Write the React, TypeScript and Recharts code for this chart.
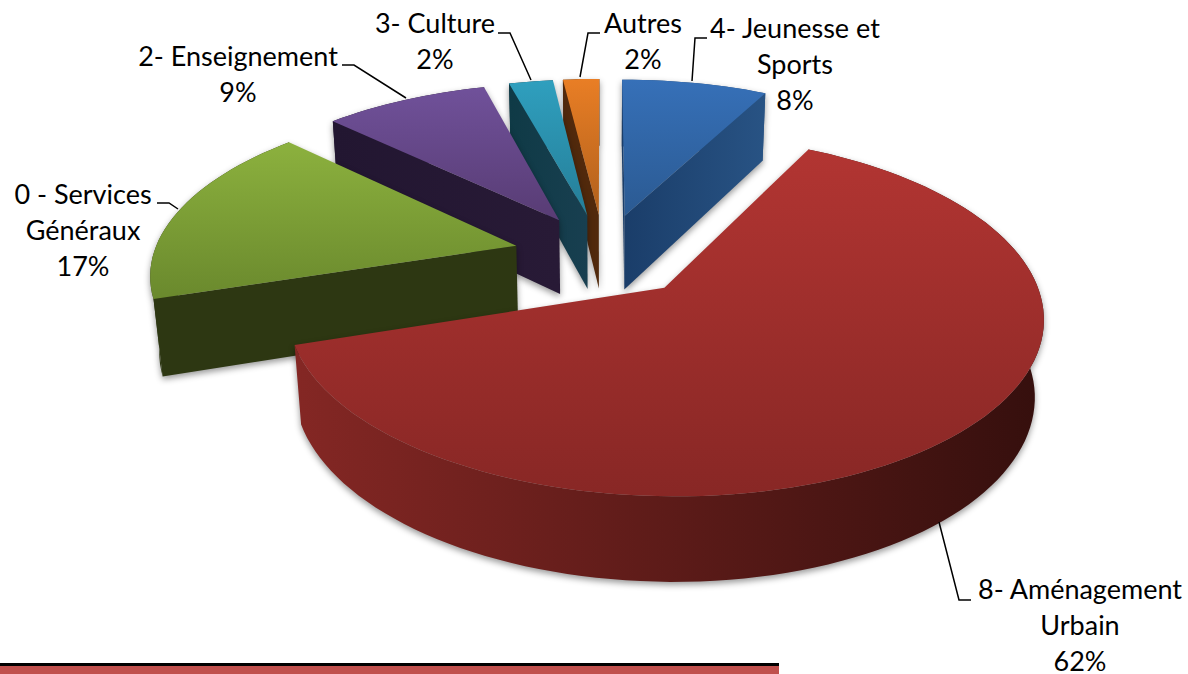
import { PieChart, Pie } from 'recharts';

// drawn back to front, going anticlockwise from the right edge of the blue slice
const categories = [
  '4- Jeunesse et Sports',
  'Autres',
  '3- Culture',
  '2- Enseignement',
  '0 - Services Généraux',
  '8- Aménagement Urbain',
];
const values = [7.6, 1.9, 2.3, 8.6, 17.2, 62.4];

const total = values.reduce((a, b) => a + b, 0);
const data = categories.map((name, i) => ({ name, value: values[i] }));
const startAngle = 90 - (360 * values[0]) / total;

// disc projection
const TILT = 0.46;
const PERSPECTIVE = 0.148;
const EXPLODE = 0.25;
const DEPTH = 77;
const DEPTH_SHRINK = 0.02;

const palette = [
  { topA: '#3670b8', topB: '#2b5a92', cutA: '#1a3d69', cutB: '#285384', wallA: '#1a3d69', wallB: '#285384' },
  { topA: '#e97e25', topB: '#b0601c', cutA: '#51290c', cutB: '#51290c', wallA: '#51290c', wallB: '#51290c' },
  { topA: '#2f9fbe', topB: '#257e98', cutA: '#0f3a46', cutB: '#183f50', wallA: '#0f3a46', wallB: '#183f50' },
  { topA: '#70519a', topB: '#583c74', cutA: '#221631', cutB: '#281a36', wallA: '#221631', wallB: '#281a36' },
  { topA: '#8cb13e', topB: '#6a892d', cutA: '#2d3712', cutB: '#2d3712', wallA: '#2d3712', wallB: '#2d3712' },
  { topA: '#b23532', topB: '#882725', cutA: '#7f2522', cutB: '#36100e', wallA: '#842724', wallB: '#350f0d' },
];

const labelLayout = [
  { cx: 795, y: 38, lines: ['4- Jeunesse et', 'Sports'], leader: '692,81 695,38 707,38' },
  { cx: 643, y: 33, lines: ['Autres'], leader: '580,77 588,33 600,33' },
  { cx: 435, y: 33, lines: ['3- Culture'], leader: '531,80 510,33 498,33' },
  { cx: 238, y: 66, lines: ['2- Enseignement'], leader: '406,98 354,65 342,65' },
  { cx: 83, y: 204, lines: ['0 - Services', 'Généraux'], leader: '178,209 169,203 157,203' },
  { cx: 1080, y: 599, lines: ['8- Aménagement', 'Urbain'], leader: '939,522 959,600 971,600' },
];

type Pt = [number, number];
const toPath = (pts: Pt[]) => 'M' + pts.map((p) => `${p[0].toFixed(1)},${p[1].toFixed(1)}`).join('L') + 'Z';

function Slice3D(props: any) {
  const { cx, cy, outerRadius, startAngle: a0, endAngle: a1, index } = props;
  const rad = (d: number) => (d * Math.PI) / 180;
  const mid = rad((a0 + a1) / 2);
  const ox = EXPLODE * Math.cos(mid);
  const oy = EXPLODE * Math.sin(mid);
  const project = (u: number, v: number, bottom: boolean): Pt => {
    const w = 1 + PERSPECTIVE * (v + oy) + (bottom ? DEPTH_SHRINK : 0);
    return [
      cx + (outerRadius * (u + ox)) / w,
      cy - (outerRadius * TILT * (v + oy)) / w + (bottom ? DEPTH / w : 0),
    ];
  };

  const steps = Math.max(4, Math.ceil(Math.abs(a1 - a0) / 2));
  const angles: number[] = [];
  for (let i = 0; i <= steps; i++) angles.push(rad(a0 + ((a1 - a0) * i) / steps));
  const arcTop = angles.map((a) => project(Math.cos(a), Math.sin(a), false));
  const arcBottom = angles.map((a) => project(Math.cos(a), Math.sin(a), true));
  const apexTop = project(0, 0, false);
  const apexBottom = project(0, 0, true);

  const inner = arcTop[Math.floor(steps / 2)];
  // a cut face only shows when the wedge lies above its top edge
  const cutShows = (q: Pt) => {
    const dx = q[0] - apexTop[0];
    const dy = q[1] - apexTop[1];
    const sideInner = dx * (inner[1] - apexTop[1]) - dy * (inner[0] - apexTop[0]);
    const sideDown = dx;
    return Math.abs(dx) > 2 && sideInner * sideDown < 0;
  };

  const c = palette[index];
  const ys = [...arcTop.map((p) => p[1]), apexTop[1]];
  const xs = [...arcTop.map((p) => p[0]), apexTop[0]];
  const id = `s${index}`;
  const xRange = { x1: Math.min(...xs), x2: Math.max(...xs), y1: 0, y2: 0 };

  const cuts = [arcTop[0], arcTop[steps]].map((q, i) => {
    if (!cutShows(q)) return null;
    const b = i === 0 ? arcBottom[0] : arcBottom[steps];
    return <path key={i} d={toPath([apexTop, q, b, apexBottom])} fill={`url(#${id}cut)`} />;
  });

  return (
    <g style={{ filter: 'drop-shadow(0px 3px 3px rgba(0,0,0,0.4))' }}>
      <defs>
        <linearGradient id={`${id}top`} gradientUnits="userSpaceOnUse" x1={0} x2={0} y1={Math.min(...ys)} y2={Math.max(...ys)}>
          <stop offset="0%" stopColor={c.topA} />
          <stop offset="100%" stopColor={c.topB} />
        </linearGradient>
        <linearGradient id={`${id}wall`} gradientUnits="userSpaceOnUse" {...xRange}>
          <stop offset="0%" stopColor={c.wallA} />
          <stop offset="100%" stopColor={c.wallB} />
        </linearGradient>
        <linearGradient id={`${id}cut`} gradientUnits="userSpaceOnUse" {...xRange}>
          <stop offset="0%" stopColor={c.cutA} />
          <stop offset="100%" stopColor={c.cutB} />
        </linearGradient>
      </defs>
      <path d={toPath([...arcTop, ...[...arcBottom].reverse()])} fill={`url(#${id}wall)`} />
      {cuts}
      <path d={toPath([apexTop, ...arcTop])} fill={`url(#${id}top)`} />
    </g>
  );
}

function SliceLabel(props: any) {
  const { index, percent } = props;
  const l = labelLayout[index];
  const rows = [...l.lines, `${Math.round(percent * 100)}%`];
  return (
    <g>
      <polyline points={l.leader} fill="none" stroke="#000" strokeWidth={1.5} />
      {rows.map((t, i) => (
        <text key={i} x={l.cx} y={l.y + i * 36} textAnchor="middle" fontFamily="Lato" fontSize={27} fill="#000">
          {t}
        </text>
      ))}
    </g>
  );
}

export default function App() {
  return (
    <div style={{ position: 'absolute', left: 0, top: 0, width: 1188, height: 674, overflow: 'hidden', background: '#fff' }}>
      <PieChart width={1188} height={674} margin={{ top: 0, right: 0, bottom: 0, left: 0 }}>
        <Pie
          data={data}
          dataKey="value"
          nameKey="name"
          cx={604}
          cy={255}
          outerRadius={363}
          startAngle={startAngle}
          endAngle={startAngle + 360}
          shape={Slice3D}
          label={SliceLabel}
          labelLine={false}
          stroke="none"
          isAnimationActive={false}
        />
      </PieChart>
      <div style={{ position: 'absolute', left: 0, top: 663, width: 779, height: 11, background: '#c0504d', borderTop: '3px solid #000', boxSizing: 'border-box' }} />
    </div>
  );
}
